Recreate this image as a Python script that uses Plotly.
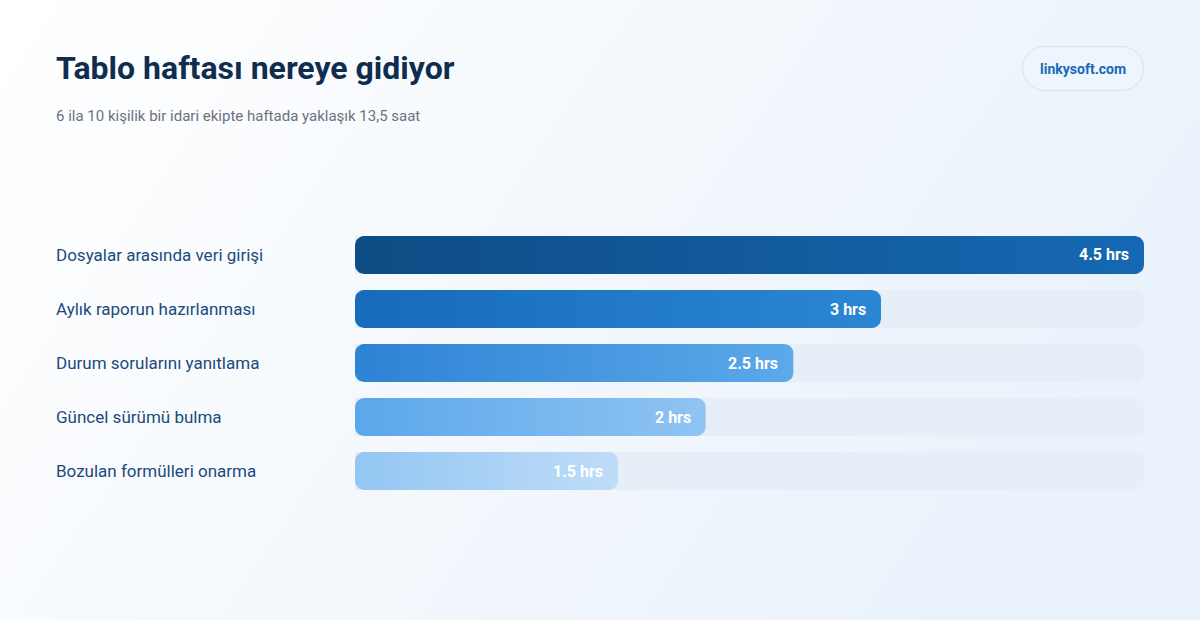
import base64
import numpy as np
import plotly.graph_objects as go

# ---- data ----
categories = ["Dosyalar arasında veri girişi", "Aylık raporun hazırlanması",
              "Durum sorularını yanıtlama", "Güncel sürümü bulma", "Bozulan formülleri onarma"]
hours = [4.5, 3, 2.5, 2, 1.5]
value_labels = ["4.5 hrs", "3 hrs", "2.5 hrs", "2 hrs", "1.5 hrs"]
title_text = "Tablo haftası nereye gidiyor"
subtitle_text = "6 ila 10 kişilik bir idari ekipte haftada yaklaşık 13,5 saat"
badge_text = "linkysoft.com"

# ---- style ----
W, H = 1200, 620
PX0, PX1 = 355, 1144          # plot area x in px
ROW_TOP, ROW_H = 228, 54      # plot area top in px, row pitch
NROWS = len(categories)
PY0, PY1 = ROW_TOP, ROW_TOP + ROW_H * NROWS
BAR_FRAC = 38 / 54
RADIUS = 9
grads = [("#0e4c84", "#1668b4"), ("#166bba", "#2b86d3"), ("#2d83d4", "#5ca9ea"),
         ("#5aa7ea", "#90c4f3"), ("#93c6f3", "#bfdcf8")]
FONT = "Roboto"

xmax = max(hours)
px_per_x = (PX1 - PX0) / xmax
px_per_y = ROW_H


def rounded_rect(x0, x1, yc, hh, r_px, n=8):
    rx = r_px / px_per_x
    ry = r_px / px_per_y
    xs, ys = [], []
    corners = [(x1 - rx, yc - hh + ry, -np.pi / 2, 0),
               (x1 - rx, yc + hh - ry, 0, np.pi / 2),
               (x0 + rx, yc + hh - ry, np.pi / 2, np.pi),
               (x0 + rx, yc - hh + ry, np.pi, 1.5 * np.pi)]
    for cx, cy, a0, a1 in corners:
        t = np.linspace(a0, a1, n)
        xs.extend(cx + rx * np.cos(t))
        ys.extend(cy + ry * np.sin(t))
    xs.append(xs[0]); ys.append(ys[0])
    return xs, ys


fig = go.Figure()
ypos = list(range(NROWS))

# track bars
fig.add_trace(go.Bar(x=[xmax] * NROWS, y=ypos, orientation="h", width=BAR_FRAC,
                     marker=dict(color="#e6eef8", cornerradius=RADIUS, line=dict(width=0)),
                     hoverinfo="skip", showlegend=False))

# value bars with gradient
for i, (v, (c0, c1)) in enumerate(zip(hours, grads)):
    xs, ys = rounded_rect(0, v, i, BAR_FRAC / 2, RADIUS)
    fig.add_trace(go.Scatter(x=xs, y=ys, mode="lines", fill="toself",
                             line=dict(width=0, color=c0),
                             fillgradient=dict(type="horizontal",
                                               colorscale=[[0, c0], [1, c1]]),
                             hoverinfo="skip", showlegend=False))

ann = []
for i, (v, lab) in enumerate(zip(hours, value_labels)):
    ann.append(dict(x=v, y=i, xref="x", yref="y", text=f"<b>{lab}</b>", showarrow=False,
                    xanchor="right", yanchor="middle", xshift=-13,
                    font=dict(family=FONT, size=16, color="white")))
for i, cat in enumerate(categories):
    ann.append(dict(x=54 / W, y=1 - (PY0 + ROW_H * (i + 0.5)) / H, xref="paper", yref="paper",
                    text=cat, showarrow=False, xanchor="left", yanchor="middle",
                    font=dict(family=FONT, size=17, color="#1b4a7c")))
ann.append(dict(x=54 / W, y=1 - 68 / H, xref="paper", yref="paper",
                text=f"<b>{title_text}</b>", showarrow=False, xanchor="left", yanchor="middle",
                font=dict(family=FONT, size=32, color="#0f2d4f")))
ann.append(dict(x=54 / W, y=1 - 116 / H, xref="paper", yref="paper",
                text=subtitle_text, showarrow=False, xanchor="left", yanchor="middle",
                font=dict(family=FONT, size=15, color="#6b7280")))
ann.append(dict(x=1083 / W, y=1 - 69 / H, xref="paper", yref="paper",
                text=f"<b>{badge_text}</b>", showarrow=False, xanchor="center", yanchor="middle",
                font=dict(family=FONT, size=14, color="#1a68b8")))

# background + badge as an svg image
svg = f'''<svg xmlns="http://www.w3.org/2000/svg" width="{W}" height="{H}" viewBox="0 0 {W} {H}" preserveAspectRatio="none">
<defs><linearGradient id="g" x1="0" y1="0" x2="1" y2="0.35">
<stop offset="0" stop-color="#ffffff"/><stop offset="1" stop-color="#eaf2fb"/></linearGradient></defs>
<rect x="0" y="0" width="{W}" height="{H}" fill="url(#g)"/>
<rect x="1022.5" y="46.5" width="121" height="44" rx="22" ry="22" fill="#edf5fd" stroke="#d2e4f6" stroke-width="1"/>
</svg>'''
src = "data:image/svg+xml;base64," + base64.b64encode(svg.encode()).decode()

fig.update_layout(
    width=W, height=H,
    margin=dict(l=0, r=0, t=0, b=0),
    paper_bgcolor="#f7fafd", plot_bgcolor="rgba(0,0,0,0)",
    barmode="overlay",
    xaxis=dict(domain=[PX0 / W, PX1 / W], range=[0, xmax], visible=False, fixedrange=True),
    yaxis=dict(domain=[1 - PY1 / H, 1 - PY0 / H], range=[NROWS - 0.5, -0.5],
               visible=False, fixedrange=True),
    annotations=ann,
    images=[dict(source=src, xref="paper", yref="paper", x=0, y=1, sizex=1, sizey=1,
                 xanchor="left", yanchor="top", sizing="stretch", layer="below")],
    showlegend=False,
)

fig.write_html("out.html", config=dict(displayModeBar=False),
               post_script="document.body.style.margin='0';document.body.style.overflow='hidden';")
